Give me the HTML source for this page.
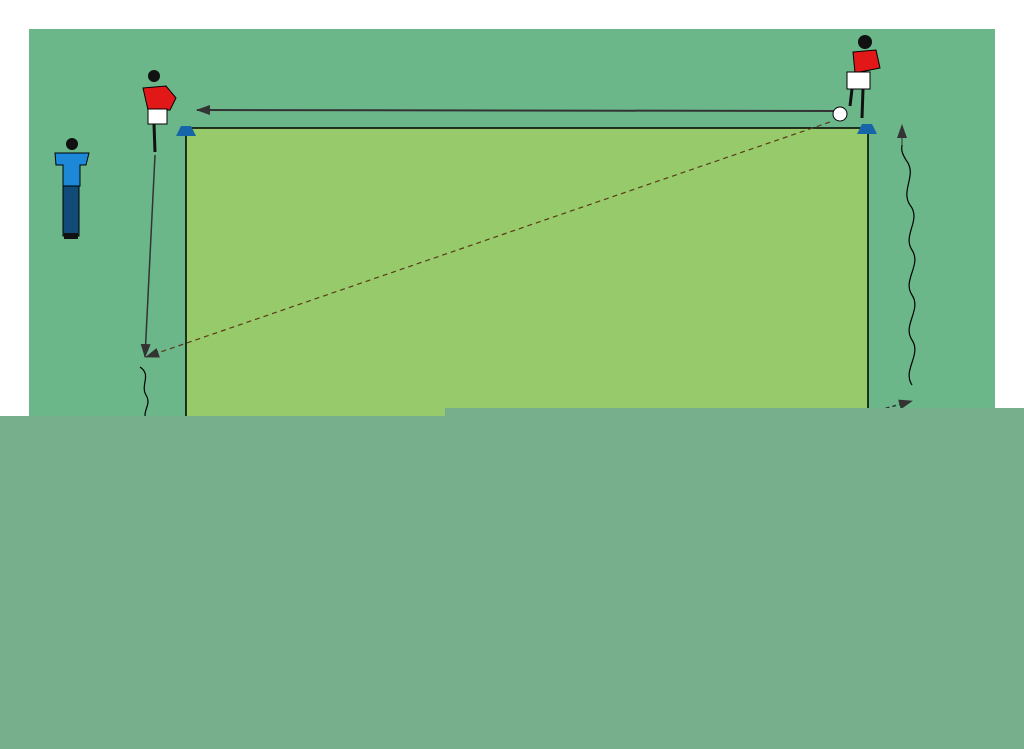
<!DOCTYPE html>
<html><head><style>
body{margin:0;width:1024px;height:749px;background:#fff;position:relative;overflow:hidden}
</style></head><body>
<svg width="1024" height="749" style="position:absolute;left:0;top:0">
<defs>
<marker id="ah" markerWidth="14" markerHeight="10" refX="13" refY="5" orient="auto" markerUnits="userSpaceOnUse"><path d="M0,0L14,5L0,10Z" fill="#333"/></marker>
</defs>
<rect x="29" y="29" width="966" height="400" fill="#6bb78a"/>
<rect x="186" y="128" width="682" height="300" fill="#96ca6a" stroke="#000" stroke-width="1.5"/>
<line x1="835" y1="111" x2="197" y2="110" stroke="#333" stroke-width="2" marker-end="url(#ah)"/>
<line x1="155" y1="155" x2="145" y2="357" stroke="#333" stroke-width="1.5" marker-end="url(#ah)"/>
<line x1="830" y1="122" x2="146" y2="357" stroke="#5a3a1a" stroke-width="1.2" stroke-dasharray="5,4" marker-end="url(#ah)"/>
<path d="M912,385 C902,370 922,355 912,340 C902,325 922,310 912,295 C902,280 922,265 912,250 C902,235 922,220 910,205 C900,190 918,175 906,160 C900,150 902,148 902,145" fill="none" stroke="#000" stroke-width="1.2"/>
<line x1="902" y1="145" x2="902" y2="125" stroke="#333" stroke-width="1" marker-end="url(#ah)"/>
<path d="M140,367 C152,375 140,385 146,395 C152,405 142,410 146,420" fill="none" stroke="#000" stroke-width="1.2"/>
<line x1="872" y1="412" x2="912" y2="401" stroke="#333" stroke-width="1.5" stroke-dasharray="4,3" marker-end="url(#ah)"/>
<!-- cones -->
<path d="M176,136 L181,126 L191,126 L196,136 Z" fill="#1565a8"/>
<path d="M857,134 L862,124 L872,124 L877,134 Z" fill="#1565a8"/>
<!-- left player -->
<circle cx="154" cy="76" r="6" fill="#111"/>
<path d="M143,88 L166,86 L176,98 L170,110 L148,110 Z" fill="#e21818" stroke="#000"/>
<rect x="148" y="109" width="19" height="15" fill="#fff" stroke="#000"/>
<line x1="154" y1="124" x2="155" y2="152" stroke="#111" stroke-width="3"/>
<!-- right player -->
<circle cx="865" cy="42" r="7" fill="#111"/>
<path d="M853,52 L876,50 L880,68 L855,73 Z" fill="#e21818" stroke="#000"/>
<rect x="847" y="72" width="23" height="17" fill="#fff" stroke="#000"/>
<line x1="852" y1="89" x2="850" y2="106" stroke="#111" stroke-width="3"/>
<line x1="863" y1="89" x2="862" y2="118" stroke="#111" stroke-width="3"/>
<circle cx="840" cy="114" r="7" fill="#fff" stroke="#000"/>
<!-- coach -->
<circle cx="72" cy="144" r="6" fill="#111"/>
<path d="M55,153 L89,153 L86,165 L80,165 L80,186 L63,186 L63,165 L56,165 Z" fill="#1e88d8" stroke="#000"/>
<rect x="63" y="186" width="16" height="50" fill="#124a78" stroke="#000"/>
<rect x="64" y="233" width="14" height="6" fill="#111"/>
<!-- overlay -->
<path d="M0,416 L445,416 L445,408 L1024,408 L1024,749 L0,749 Z" fill="#77ae8b"/>
</svg>
</body></html>
